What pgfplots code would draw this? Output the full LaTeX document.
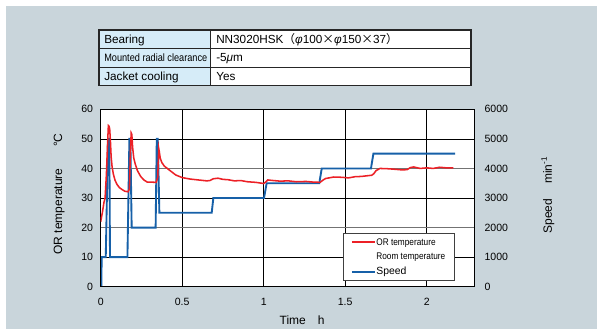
\documentclass[border=0pt]{standalone}
\usepackage{pgfplots}
\pgfplotsset{compat=1.18}
\usepackage{fontspec}
\setmainfont{Liberation Sans}
\newfontfamily\cjk{Noto Sans CJK JP}
\definecolor{bg}{RGB}{201,213,219}
\definecolor{hdr}{RGB}{214,236,248}
\definecolor{tred}{RGB}{236,32,38}
\definecolor{sblue}{RGB}{22,96,168}
\begin{document}
\begin{tikzpicture}
\begin{scope}[x=0.75pt,y=0.75pt]
\fill[white] (0,0) rectangle (597,329);
\fill[bg] (6,0) rectangle (597,323);
% table
\fill[hdr] (99,243.5) rectangle (210.7,299);
\fill[white] (210.7,243.5) rectangle (471,299);
\draw[black!85, line width=0.7pt] (99,280.5) -- (471,280.5) (99,262) -- (471,262) (210.7,243.5) -- (210.7,299);
\draw[black!85, line width=0.9pt] (99,243.5) rectangle (471,299);
\node[anchor=base west, inner sep=0pt, font=\fontsize{8.8}{10}\selectfont] at (104,285.6) {Bearing};
\node[anchor=base west, inner sep=0pt, font=\fontsize{8.8}{10}\selectfont] at (216,285.6) {NN3020HSK{\cjk （}{\itshape φ}100{\cjk ×}{\itshape φ}150{\cjk ×}37{\cjk ）}};
\node[anchor=base west, inner sep=0pt, font=\fontsize{8}{9}\selectfont] at (104,267.4) {\scalebox{0.86}[1]{Mounted radial clearance}};
\node[anchor=base west, inner sep=0pt, font=\fontsize{8.8}{10}\selectfont] at (216,267.1) {-5{\itshape μ}m};
\node[anchor=base west, inner sep=0pt, font=\fontsize{8.8}{10}\selectfont] at (104,248.6) {Jacket cooling};
\node[anchor=base west, inner sep=0pt, font=\fontsize{8.8}{10}\selectfont] at (216,248.6) {Yes};
\end{scope}

% speed axis (right) with grid
\begin{axis}[
  at={(75.525pt,31.725pt)}, anchor=south west, scale only axis,
  width=280.2pt, height=133.05pt,
  xmin=0, xmax=2.292, ymin=0, ymax=6000,
  axis background/.style={fill=white},
  xtick={0,0.5,1,1.5,2},
  ytick={0,1000,3000,5000,6000},
  extra y ticks={2000,4000},
  extra y tick style={grid=major, major grid style={black!55, line width=1.2pt}},
  grid=major, major grid style={black, line width=0.55pt},
  major tick length=0pt,
  yticklabel pos=right,
  scaled y ticks=false,
  /pgf/number format/1000 sep={},
  /pgf/number format/assume math mode=true,
  ticklabel style={font=\fontsize{7.9}{9}\selectfont, inner sep=0pt},
  yticklabel style={xshift=7.5pt},
  xticklabel style={yshift=-8.2pt},
  axis line style={black, line width=0.8pt},
  xlabel={Time\hspace{1em}h},
  every axis x label/.style={at={(axis description cs:0.539,-0.188)}, anchor=center, font=\fontsize{9}{10}\selectfont},
  ylabel={Speed\hspace{1.25em}min\textsuperscript{-1}},
  every axis y label/.style={at={(axis description cs:1.197,0.517)}, anchor=center, rotate=90, font=\fontsize{9}{10}\selectfont},
]
\addplot[sblue, line width=1.4pt] coordinates {
(0,0) (0.004,0) (0.006,1000) (0.031,1000) (0.045,5000) (0.053,5000) (0.057,1000)
(0.164,1000) (0.176,5000) (0.182,5000) (0.19,2000) (0.337,2000) (0.344,5000)
(0.35,5000) (0.36,2500) (0.681,2500) (0.691,3000) (1.002,3000) (1.018,3500)
(1.341,3500) (1.356,4000) (1.658,4000) (1.673,4500) (2.174,4500)
};
\end{axis}

% temperature axis (left)
\begin{axis}[
  at={(75.525pt,31.725pt)}, anchor=south west, scale only axis,
  width=280.2pt, height=133.05pt,
  xmin=0, xmax=2.292, ymin=0, ymax=60,
  xtick=\empty,
  ytick={0,10,...,60},
  major tick length=0pt,
  /pgf/number format/assume math mode=true,
  ticklabel style={font=\fontsize{7.9}{9}\selectfont, inner sep=0pt},
  yticklabel style={xshift=-5.5pt},
  axis line style={black, line width=0.8pt},
  ylabel={OR temperature\hspace{1.8em}°C},
  every axis y label/.style={at={(axis description cs:-0.111,0.523)}, anchor=center, rotate=90, font=\fontsize{9}{10}\selectfont},
  legend style={at={(axis description cs:0.9465,0.032)}, anchor=south east,
    draw=black!75, fill=white, inner xsep=6pt, inner ysep=2.5pt,
    row sep=2.4pt,
    nodes={inner sep=0.6pt, text height=6pt, text depth=1.5pt},
    font=\fontsize{7.2}{8}\selectfont},
  legend cell align=left,
]
\addplot[tred, line width=1.15pt, forget plot] coordinates {
(0,22) (0.01,25) (0.02,28.5) (0.027,30) (0.035,38) (0.042,48) (0.047,54.5) (0.051,54.3)
(0.055,53.5) (0.059,50) (0.064,44) (0.07,40.5) (0.078,38) (0.088,36) (0.1,34.6)
(0.115,33.5) (0.13,32.9) (0.148,32.3) (0.168,32.1) (0.176,33) (0.182,45) (0.187,52)
(0.191,51.5) (0.196,47) (0.203,43.5) (0.212,41.5) (0.225,39.3) (0.245,37.3)
(0.265,36.1) (0.285,35.4) (0.34,35.3) (0.35,37) (0.356,46.8) (0.36,45.5) (0.365,43.5)
(0.375,42) (0.39,40.8) (0.42,39.5) (0.46,37.8) (0.5,36.9) (0.55,36.4) (0.6,36.1)
(0.65,35.8) (0.67,35.9) (0.69,36.5) (0.72,36.7) (0.75,36.3) (0.78,36.2) (0.82,35.8)
(0.86,35.9) (0.9,35.5) (0.95,35.3) (1.0,34.9) (1.01,35.3) (1.025,36.1) (1.06,35.9)
(1.1,35.7) (1.15,35.8) (1.2,35.5) (1.26,35.6) (1.3,35.4) (1.346,35.3) (1.365,36.1)
(1.38,36.6) (1.43,37.1) (1.48,37.0) (1.52,36.8) (1.56,37.2) (1.6,37.3) (1.663,37.7)
(1.675,38.2) (1.69,39.3) (1.714,40) (1.76,39.9) (1.81,39.7) (1.85,39.5) (1.88,39.6)
(1.9,40.3) (1.92,40.5) (1.96,40.0) (2.0,40.2) (2.04,40.0) (2.08,40.4) (2.12,40.2) (2.164,40.2)
};
\addlegendimage{line legend, tred, line width=1.15pt}
\addlegendentry{\scalebox{0.86}[1]{OR temperature}}
\addlegendimage{line legend, draw=white, draw opacity=0}
\addlegendentry{\scalebox{0.86}[1]{Room temperature}}
\addlegendimage{line legend, sblue, line width=1.4pt}
\addlegendentry{{\fontsize{7.8}{8}\selectfont Speed}}
\end{axis}
\pgfresetboundingbox
\useasboundingbox (0,0) rectangle (447.75pt,246.75pt);
\end{tikzpicture}
\end{document}
